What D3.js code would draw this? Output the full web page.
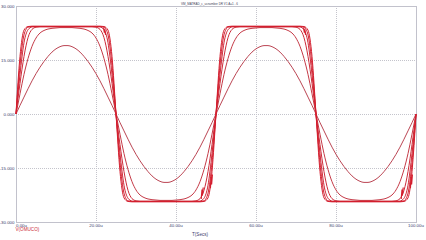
<!DOCTYPE html>
<html>
<head>
<meta charset="utf-8">
<script src="https://cdn.jsdelivr.net/npm/d3@7"></script>
<style>
  html, body { margin: 0; padding: 0; background: #fff; }
  svg { display: block; }
</style>
</head>
<body>
<div id="chart"></div>
<script>
// chart text
const title = 'VM_MATRAD_c_ucnumber DR V1 A=1 - 6';
const legendLabel = 'V(OMUCO)';
const xLabel = 'T(Secs)';

// ticks
const xTicks = [0, 20, 40, 60, 80, 100];
const xTickLabels = ['0.00u', '20.00u', '40.00u', '60.00u', '80.00u', '100.00u'];
const yTicks = [30, 15, 0, -15, -30];
const yTickLabels = ['30.000', '15.000', '0.000', '-15.000', '-30.000'];

// sample times (us), one per microsecond
const timeUs = d3.range(0, 101);

// output voltage for each step of A
const vA1 = [
  0, 2.4, 4.7, 7.0, 9.2, 11.2, 13.0, 14.6, 16.0, 17.2, 18.1, 18.7, 19.0, 19.0, 18.7, 18.1, 17.2, 16.0, 14.6, 13.0, 11.2, 9.2, 7.0, 4.7, 2.4, 0,
  -2.4, -4.7, -7.0, -9.2, -11.2, -13.0, -14.6, -16.0, -17.2, -18.1, -18.7, -19.0, -19.0, -18.7, -18.1, -17.2, -16.0, -14.6, -13.0, -11.2, -9.2, -7.0, -4.7, -2.4, 0,
  2.4, 4.7, 7.0, 9.2, 11.2, 13.0, 14.6, 16.0, 17.2, 18.1, 18.7, 19.0, 19.0, 18.7, 18.1, 17.2, 16.0, 14.6, 13.0, 11.2, 9.2, 7.0, 4.7, 2.4, 0,
  -2.4, -4.7, -7.0, -9.2, -11.2, -13.0, -14.6, -16.0, -17.2, -18.1, -18.7, -19.0, -19.0, -18.7, -18.1, -17.2, -16.0, -14.6, -13.0, -11.2, -9.2, -7.0, -4.7, -2.4, 0
];
const vA2 = [
  0, 5.6, 11.0, 15.4, 18.8, 21.1, 22.5, 23.2, 23.6, 23.8, 23.9, 24.0, 24.0, 24.0, 24.0, 23.9, 23.8, 23.6, 23.2, 22.5, 21.1, 18.8, 15.4, 11.0, 5.6, 0,
  -5.6, -11.0, -15.4, -18.8, -21.1, -22.5, -23.2, -23.6, -23.8, -23.9, -24.0, -24.0, -24.0, -24.0, -23.9, -23.8, -23.6, -23.2, -22.5, -21.1, -18.8, -15.4, -11.0, -5.6, 0,
  5.6, 11.0, 15.4, 18.8, 21.1, 22.5, 23.2, 23.6, 23.8, 23.9, 24.0, 24.0, 24.0, 24.0, 23.9, 23.8, 23.6, 23.2, 22.5, 21.1, 18.8, 15.4, 11.0, 5.6, 0,
  -5.6, -11.0, -15.4, -18.8, -21.1, -22.5, -23.2, -23.6, -23.8, -23.9, -24.0, -24.0, -24.0, -24.0, -23.9, -23.8, -23.6, -23.2, -22.5, -21.1, -18.8, -15.4, -11.0, -5.6, 0
];
const vA3 = [
  0, 8.5, 16.0, 21.2, 23.5, 24.1,
  24.2, 24.2, 24.2, 24.2, 24.2, 24.2, 24.2, 24.2, 24.2, 24.2, 24.2, 24.2, 24.2, 24.2,
  24.1, 23.5, 21.2, 16.0, 8.5, 0,
  -8.5, -16.0, -21.2, -23.5, -24.1,
  -24.2, -24.2, -24.2, -24.2, -24.2, -24.2, -24.2, -24.2, -24.2, -24.2, -24.2, -24.2, -24.2, -24.2,
  -24.1, -23.5, -21.2, -16.0, -8.5, 0,
  8.5, 16.0, 21.2, 23.5, 24.1,
  24.2, 24.2, 24.2, 24.2, 24.2, 24.2, 24.2, 24.2, 24.2, 24.2, 24.2, 24.2, 24.2, 24.2,
  24.1, 23.5, 21.2, 16.0, 8.5, 0,
  -8.5, -16.0, -21.2, -23.5, -24.1,
  -24.2, -24.2, -24.2, -24.2, -24.2, -24.2, -24.2, -24.2, -24.2, -24.2, -24.2, -24.2, -24.2, -24.2,
  -24.1, -23.5, -21.2, -16.0, -8.5, 0
];
const vA4 = [
  0, 11.0, 19.8, 23.4, 24.2,
  24.3, 24.3, 24.3, 24.3, 24.3, 24.3, 24.3, 24.3, 24.3, 24.3, 24.3, 24.3, 24.3, 24.3, 24.3, 24.3,
  24.2, 23.4, 19.8, 11.0, 0,
  -11.0, -19.8, -23.4, -24.2,
  -24.3, -24.3, -24.3, -24.3, -24.3, -24.3, -24.3, -24.3, -24.3, -24.3, -24.3, -24.3, -24.3, -24.3, -24.3, -24.3,
  -24.2, -23.4, -19.8, -11.0, 0,
  11.0, 19.8, 23.4, 24.2,
  24.3, 24.3, 24.3, 24.3, 24.3, 24.3, 24.3, 24.3, 24.3, 24.3, 24.3, 24.3, 24.3, 24.3, 24.3, 24.3,
  24.2, 23.4, 19.8, 11.0, 0,
  -11.0, -19.8, -23.4, -24.2,
  -24.3, -24.3, -24.3, -24.3, -24.3, -24.3, -24.3, -24.3, -24.3, -24.3, -24.3, -24.3, -24.3, -24.3, -24.3, -24.3,
  -24.2, -23.4, -19.8, -11.0, 0
];
const vA5 = [
  0, 13.5, 22.0, 24.1,
  24.3, 24.3, 24.3, 24.3, 24.3, 24.3, 24.3, 24.3, 24.3, 24.3, 24.3, 24.3, 24.3, 24.3, 24.3, 24.3, 24.3, 24.3,
  24.1, 22.0, 13.5, 0,
  -13.5, -22.0, -24.1,
  -24.3, -24.3, -24.3, -24.3, -24.3, -24.3, -24.3, -24.3, -24.3, -24.3, -24.3, -24.3, -24.3, -24.3, -24.3, -24.3, -24.3, -24.3,
  -24.1, -22.0, -13.5, 0,
  13.5, 22.0, 24.1,
  24.3, 24.3, 24.3, 24.3, 24.3, 24.3, 24.3, 24.3, 24.3, 24.3, 24.3, 24.3, 24.3, 24.3, 24.3, 24.3, 24.3, 24.3,
  24.1, 22.0, 13.5, 0,
  -13.5, -22.0, -24.1,
  -24.3, -24.3, -24.3, -24.3, -24.3, -24.3, -24.3, -24.3, -24.3, -24.3, -24.3, -24.3, -24.3, -24.3, -24.3, -24.3, -24.3, -24.3,
  -24.1, -22.0, -13.5, 0
];
const vA6 = [
  0, 16.0, 23.3, 24.3,
  24.4, 24.4, 24.4, 24.4, 24.4, 24.4, 24.4, 24.4, 24.4, 24.4, 24.4, 24.4, 24.4, 24.4, 24.4, 24.4, 24.4, 24.4,
  24.3, 23.3, 16.0, 0,
  -16.0, -23.3, -24.3,
  -24.4, -24.4, -24.4, -24.4, -24.4, -24.4, -24.4, -24.4, -24.4, -24.4, -24.4, -24.4, -24.4, -24.4, -24.4, -24.4, -24.4, -24.4,
  -24.3, -23.3, -16.0, 0,
  16.0, 23.3, 24.3,
  24.4, 24.4, 24.4, 24.4, 24.4, 24.4, 24.4, 24.4, 24.4, 24.4, 24.4, 24.4, 24.4, 24.4, 24.4, 24.4, 24.4, 24.4,
  24.3, 23.3, 16.0, 0,
  -16.0, -23.3, -24.3,
  -24.4, -24.4, -24.4, -24.4, -24.4, -24.4, -24.4, -24.4, -24.4, -24.4, -24.4, -24.4, -24.4, -24.4, -24.4, -24.4, -24.4, -24.4,
  -24.3, -23.3, -16.0, 0
];

// small ringing glitches on the edges, [time us, volts]
const ringTop1 = [[21.9, 24.0], [22.1, 22.6], [22.2, 23.5], [22.4, 22.0]];
const ringTop2 = [[71.9, 24.0], [72.1, 22.6], [72.2, 23.5], [72.4, 22.0]];
const ringLow1 = [[46.3, -23.6], [46.5, -21.0], [46.6, -22.6], [46.8, -20.4]];
const ringLow2 = [[48.6, -20.6], [48.8, -17.4], [48.9, -19.6], [49.1, -16.8]];
const ringLow3 = [[96.3, -23.6], [96.5, -21.0], [96.6, -22.6], [96.8, -20.4]];
const ringLow4 = [[98.6, -20.6], [98.8, -17.4], [98.9, -19.6], [99.1, -16.8]];

const series = [vA1, vA2, vA3, vA4, vA5, vA6];
const seriesColors = ['#bb4553', '#c53a47', '#cc2c3a', '#cf2635', '#d22131', '#d41e2e'];
const rings = [ringTop1, ringTop2, ringLow1, ringLow2, ringLow3, ringLow4];

const W = 426, H = 240;
const plot = {left: 16, right: 416, top: 6, bottom: 222};
const textColor = '#3c3c6c';

const svg = d3.select('#chart').append('svg')
  .attr('width', W)
  .attr('height', H)
  .style('font-family', '"Liberation Sans", Arial, sans-serif');

const x = d3.scaleLinear().domain([0, 100]).range([plot.left, plot.right]);
const y = d3.scaleLinear().domain([-30, 30]).range([plot.bottom, plot.top]);

// dotted grid
svg.append('g').selectAll('line')
  .data(xTicks.slice(1, -1))
  .join('line')
  .attr('x1', d => x(d) + 0.5).attr('x2', d => x(d) + 0.5)
  .attr('y1', plot.top).attr('y2', plot.bottom)
  .attr('stroke', '#c4c4cc')
  .attr('stroke-width', 1)
  .attr('stroke-dasharray', '1,1');

svg.append('g').selectAll('line')
  .data(yTicks.slice(1, -1))
  .join('line')
  .attr('x1', plot.left).attr('x2', plot.right)
  .attr('y1', d => y(d) + 0.5).attr('y2', d => y(d) + 0.5)
  .attr('stroke', '#c4c4cc')
  .attr('stroke-width', 1)
  .attr('stroke-dasharray', '1,1');

// plot frame
svg.append('rect')
  .attr('x', plot.left + 0.5)
  .attr('y', plot.top + 0.5)
  .attr('width', plot.right - plot.left)
  .attr('height', plot.bottom - plot.top)
  .attr('fill', 'none')
  .attr('stroke', '#c2c2cc')
  .attr('stroke-width', 1);

// traces
const line = d3.line()
  .x((d, i) => x(timeUs[i]))
  .y(d => y(d))
  .curve(d3.curveMonotoneX);

svg.append('g')
  .selectAll('path')
  .data(series)
  .join('path')
  .attr('d', d => line(d))
  .attr('fill', 'none')
  .attr('stroke', (d, i) => seriesColors[i])
  .attr('stroke-width', 1);

const ringLine = d3.line()
  .x(d => x(d[0]))
  .y(d => y(d[1]));

svg.append('g')
  .selectAll('path')
  .data(rings)
  .join('path')
  .attr('d', d => ringLine(d))
  .attr('fill', 'none')
  .attr('stroke', '#d41e2e')
  .attr('stroke-width', 1.2);

// tick labels
svg.append('g').selectAll('text')
  .data(yTicks)
  .join('text')
  .attr('x', plot.left - 1.5)
  .attr('y', d => y(d) + 1.6)
  .attr('text-anchor', 'end')
  .attr('font-size', 4.4)
  .attr('fill', textColor)
  .text((d, i) => yTickLabels[i]);

svg.append('g').selectAll('text')
  .data(xTicks)
  .join('text')
  .attr('x', d => x(d))
  .attr('y', plot.bottom + 4.6)
  .attr('text-anchor', (d, i) => i === 0 ? 'start' : 'middle')
  .attr('font-size', 4.4)
  .attr('fill', textColor)
  .text((d, i) => xTickLabels[i]);

// title, legend, axis label
svg.append('text')
  .attr('x', 181)
  .attr('y', 4.5)
  .attr('font-size', 4.2)
  .attr('fill', '#44445a')
  .attr('textLength', 57)
  .attr('lengthAdjust', 'spacingAndGlyphs')
  .text(title);

svg.append('text')
  .attr('x', plot.left - 0.5)
  .attr('y', 231)
  .attr('font-size', 4.6)
  .attr('fill', '#cc2a38')
  .text(legendLabel);

svg.append('text')
  .attr('x', 192)
  .attr('y', 235.5)
  .attr('font-size', 4.6)
  .attr('fill', textColor)
  .text(xLabel);
</script>
</body>
</html>
